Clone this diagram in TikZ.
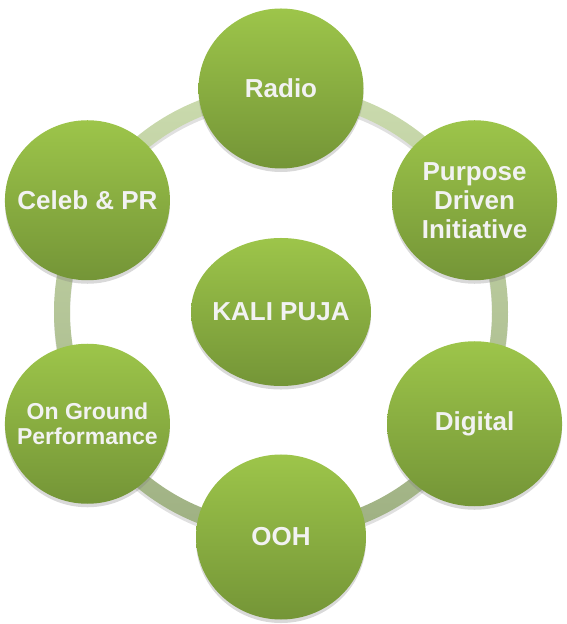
\documentclass[tikz,border=0pt]{standalone}
\usepackage{fontspec}
\setmainfont{Liberation Sans}
\usetikzlibrary{shapes.geometric,shadows}
\definecolor{balltop}{RGB}{157,197,74}
\definecolor{ballbot}{RGB}{116,149,55}
\definecolor{ringtop}{RGB}{203,219,174}
\definecolor{ringbot}{RGB}{158,176,130}
\definecolor{labelgray}{RGB}{242,242,242}

\begin{document}
\begin{tikzpicture}[ball/.style={ellipse,top color=balltop,bottom
        color=ballbot,minimum width=3.3cm,minimum height=3.2cm,inner
        sep=-0.8cm,align=center,text=labelgray,
        font=\bfseries\fontsize{14.8}{16.5}\selectfont,
        drop shadow={opacity=.3,shadow xshift=0pt,shadow yshift=-2pt}}]

    \useasboundingbox (-5.62,-6.24) rectangle (5.70,6.24);

    % the ring
    \coordinate (hub) at (0,0);
    \fill[black,opacity=.12,even odd rule] ([yshift=-2pt]hub) circle
    (4.54) ([yshift=-2pt]hub) circle (4.22);
    \shade[top color=ringtop,bottom color=ringbot,even odd rule] (hub)
    circle (4.54) (hub) circle (4.22);

    % the circles
    \node[ball,minimum width=3.6cm,minimum height=2.96cm] (kali) at
    (hub) {KALI PUJA};
    \node[ball] (radio) at (90:4.47) {Radio};
    \node[ball] (purpose) at (30:4.47) {Purpose\\Driven\\Initiative};
    \node[ball,minimum width=3.5cm,minimum height=3.3cm] (digital) at
    (-30:4.47) {Digital};
    \node[ball,minimum width=3.4cm,minimum height=3.3cm] (ooh) at
    (-90:4.5) {OOH};
    \node[ball,font=\bfseries\fontsize{13.1}{14.2}\selectfont]
    (ground) at (210:4.47) {On Ground\\Performance};
    \node[ball] (celeb) at (150:4.47) {Celeb \& PR};
  \end{tikzpicture}
\end{document}
